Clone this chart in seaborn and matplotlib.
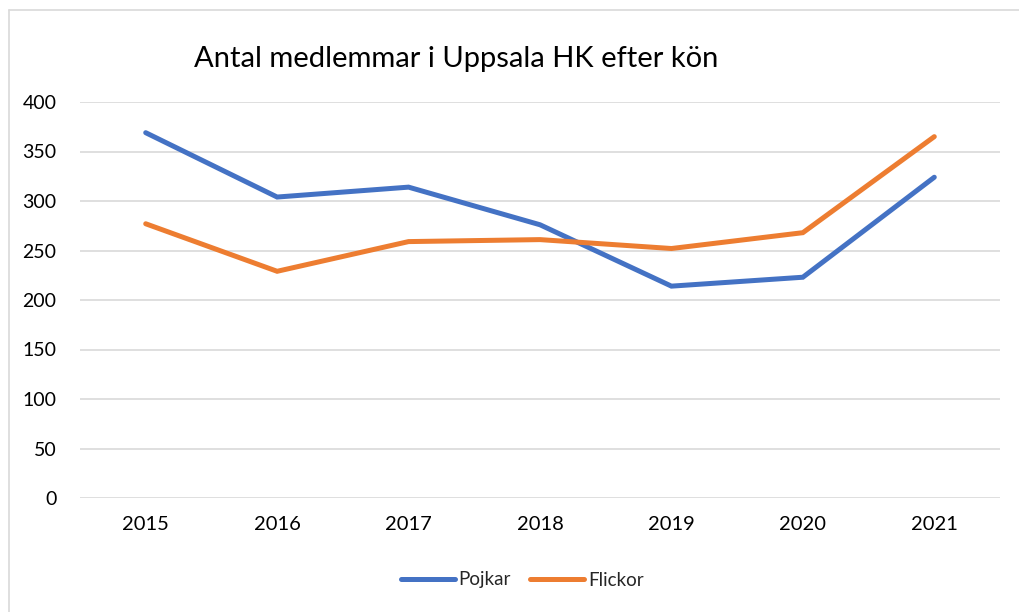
import matplotlib
matplotlib.use("Agg")
import matplotlib.pyplot as plt
import seaborn as sns
import pandas as pd
from matplotlib.lines import Line2D

years = ["2015", "2016", "2017", "2018", "2019", "2020", "2021"]
pojkar = [369, 304, 314, 276, 214, 223, 324]
flickor = [277, 229, 259, 261, 252, 268, 365]
series_names = ["Pojkar", "Flickor"]
colors = ["#4472C4", "#ED7D31"]
title = "Antal medlemmar i Uppsala HK efter kön"
yticks = [0, 50, 100, 150, 200, 250, 300, 350, 400]

df = pd.DataFrame({"År": years * 2,
                   "Antal": pojkar + flickor,
                   "Kön": [series_names[0]] * len(years) + [series_names[1]] * len(years)})

sns.set_theme(style="white")
plt.rcParams["font.family"] = ["Lato", "DejaVu Sans"]

fig = plt.figure(figsize=(10.19, 6.12), dpi=100)
ax = fig.add_axes([80 / 1019, 1 - 498 / 612, 920 / 1019, 396 / 612])

sns.lineplot(data=df, x="År", y="Antal", hue="Kön", palette=colors,
             linewidth=3.6, ax=ax, legend=False, sort=False)
for ln in ax.lines:
    ln.set_solid_capstyle("round")
    ln.set_solid_joinstyle("miter")

ax.set_xlim(-0.5, len(years) - 0.5)
ax.set_ylim(0, 400)
ax.set_yticks(yticks)
ax.set_yticklabels([str(v) for v in yticks], fontsize=14, color="#000000")
ax.set_xticks(range(len(years)))
ax.set_xticklabels(years, fontsize=14.5, color="#000000")
ax.tick_params(axis="y", length=0, pad=17)
ax.tick_params(axis="x", length=0, pad=13)
ax.set_xlabel("")
ax.set_ylabel("")
ax.grid(axis="y", color="#D9D9D9", linewidth=1.2)
ax.set_axisbelow(True)
for s in ax.spines.values():
    s.set_visible(False)

fig.text(456 / 1019, 1 - 59 / 612, title, ha="center", va="center", fontsize=21, color="#000000")

handles = [Line2D([0], [0], color=c, linewidth=3.6, solid_capstyle="round") for c in colors]
fig.legend(handles, series_names, loc="center", bbox_to_anchor=(522 / 1019, 1 - 580 / 612),
           ncol=2, frameon=False, fontsize=13.5, handlelength=2.9, handletextpad=0.2,
           columnspacing=1.0)

# outer chart border (left and top)
fig.add_artist(Line2D([9 / 1019, 9 / 1019], [0, 1 - 10 / 612], color="#D9D9D9", linewidth=1.2,
                      transform=fig.transFigure))
fig.add_artist(Line2D([9 / 1019, 1], [1 - 10 / 612, 1 - 10 / 612], color="#D9D9D9", linewidth=1.2,
                      transform=fig.transFigure))

fig.savefig("out.png", dpi=100, facecolor="white")
